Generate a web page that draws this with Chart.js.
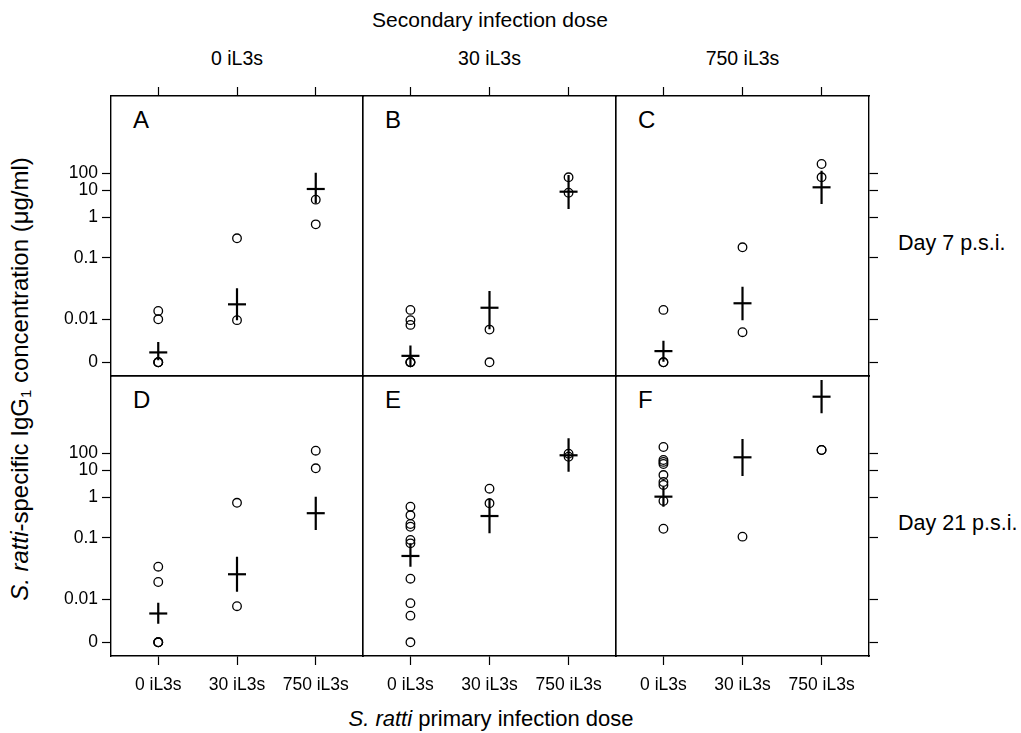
<!DOCTYPE html>
<html>
<head>
<meta charset="utf-8">
<script src="https://cdn.jsdelivr.net/npm/chart.js@4.4.0/dist/chart.umd.min.js"></script>
<style>
body { margin: 0; background: #fff; width: 1021px; height: 733px; position: relative; overflow: hidden;
       font-family: "Liberation Sans", Arial, sans-serif; color: #000; }
.lbl { position: absolute; white-space: nowrap; line-height: 1; }
.mid { transform: translate(-50%, -50%); }
canvas { position: absolute; }
</style>
</head>
<body>
<div class="lbl mid" style="left:490px; top:19px; font-size:21px;">Secondary infection dose</div>
<div id="labels"></div>
<div class="lbl" style="left:20px; top:379px; font-size:24px; transform: translate(-50%, -50%) rotate(-90deg);"><i>S. ratti</i>-specific IgG<sub style="font-size:15px; vertical-align:-3px;">1</sub> concentration (μg/ml)</div>
<div class="lbl mid" style="left:491px; top:719px; font-size:22px;"><i>S. ratti</i> primary infection dose</div>

<script>
var secondaryDoses = ['0 iL3s', '30 iL3s', '750 iL3s'];
var primaryDoses = ['0 iL3s', '30 iL3s', '750 iL3s'];
var dayLabels = ['Day 7 p.s.i.', 'Day 21 p.s.i.'];
var panelLetters = ['A', 'B', 'C', 'D', 'E', 'F'];
var yTickValues = [0, 0.01, 0.1, 1, 10, 100];
var yTickLabels = ['0', '0.01', '0.1', '1', '10', '100'];

// single mice (ug/ml), one list per primary dose
var obsA = [[0, 0, 0, 0.0100, 0.0137], [0.0098, 0.30], [0.66, 4.4]];
var obsB = [[0, 0, 0, 0.0087, 0.0098, 0.0142], [0, 0.0076], [7.9, 57.5]];
var obsC = [[0, 0, 0.0142], [0.0070, 0.18], [57.5, 360]];
var obsD = [[0, 0, 0, 0.0191, 0.0338], [0.0084, 0.72], [12.6, 143]];
var obsE = [[0, 0.0062, 0.0091, 0.0216, 0.081, 0.092, 0.186, 0.217, 0.355, 0.578], [0.70, 2.03], [62, 95]];
var obsF = [[0.166, 0.80, 2.78, 3.6, 6.5, 22.9, 30.5, 39.7, 238], [0.106], [158, 158]];

// group mean with lower / upper interval ends
var meanA = [0.0023, 0.0175, 11.5];
var lowA = [0.0005, 0.0098, 3.2];
var highA = [0.0047, 0.032, 109];
var meanB = [0.0015, 0.0154, 8.65];
var lowB = [-0.001, 0.0077, 1.98];
var highB = [0.0039, 0.0288, 79];
var meanC = [0.0026, 0.0182, 14.5];
var lowC = [0.0001, 0.0098, 3.0];
var highC = [0.005, 0.0338, 143];
var meanD = [0.0067, 0.0255, 0.40];
var lowD = [0.0043, 0.0133, 0.155];
var highD = [0.0092, 0.049, 1.03];
var meanE = [0.0505, 0.341, 76];
var lowE = [0.0338, 0.128, 8.65];
var highE = [0.081, 0.93, 790];
var meanF = [1.03, 57.5, 245000];
var lowF = [0.58, 6.0, 24800];
var highF = [2.4, 718, 2450000];

var obsAll = [obsA, obsB, obsC, obsD, obsE, obsF];
var meanAll = [meanA, meanB, meanC, meanD, meanE, meanF];
var lowAll = [lowA, lowB, lowC, lowD, lowE, lowF];
var highAll = [highA, highB, highC, highD, highE, highF];

// the y axis is a squeezed log scale: every decade gets its own height (axis units),
// 0..0.01 is linear
var bandEdge = [0, 43, 104.6, 145.3, 172.3, 189];
function toAxis(v) {
    if (v <= 0.01) return v / 0.01 * bandEdge[1];
    var lg = Math.log10(v) + 2;
    var i = Math.min(Math.floor(lg), 3);
    return bandEdge[i + 1] + (lg - i) * (bandEdge[i + 2] - bandEdge[i + 1]);
}

var panelLeft = [111, 363, 616];
var panelWidth = [252, 253, 253];
var panelTop = [96, 376];
var panelHeight = 280;
var M = 80;
var tickFont = { family: '"Liberation Sans", Arial, sans-serif', size: 17.5 };

// text around the panels
var labelsHtml = '';
secondaryDoses.forEach(function(s, c) {
    labelsHtml += '<div class="lbl mid" style="left:' + (panelLeft[c] + panelWidth[c] / 2) + 'px; top:59px; font-size:19.5px;">' + s + '</div>';
});
dayLabels.forEach(function(s, r) {
    labelsHtml += '<div class="lbl" style="left:898px; top:' + (panelTop[r] + 148 - 11) + 'px; font-size:21.5px;">' + s + '</div>';
});
panelLetters.forEach(function(s, p) {
    var r = Math.floor(p / 3), c = p % 3;
    labelsHtml += '<div class="lbl" style="left:' + (panelLeft[c] + 22) + 'px; top:' + (panelTop[r] + 12) + 'px; font-size:24px;">' + s + '</div>';
});
document.getElementById('labels').innerHTML = labelsHtml;

function setTicks(list) {
    return function(scale) { scale.ticks = list.map(function(v) { return { value: v }; }); };
}

function makeAxis(position, showTicks, showLabels, isX) {
    var axis = {
        type: 'linear',
        position: position,
        min: isX ? 0.4 : toAxis(0) - 13.7,
        max: isX ? 3.6 : toAxis(0) + 266.3,
        afterFit: function(scale) { if (isX) scale.height = M; else scale.width = M; },
        afterBuildTicks: setTicks(isX ? [1, 2, 3] : yTickValues.map(toAxis)),
        ticks: {
            display: showLabels,
            color: '#000',
            font: tickFont,
            padding: isX ? 10 : 4,
            maxRotation: 0,
            autoSkip: false,
            callback: function(value, index) { return isX ? primaryDoses[index] : yTickLabels[index]; }
        },
        grid: { display: true, drawOnChartArea: false, drawTicks: showTicks, tickLength: 9, tickColor: '#000', tickWidth: 1.2 },
        border: { display: true, color: '#000', width: 1.4 }
    };
    return axis;
}

for (var p = 0; p < 6; p++) {
    var r = Math.floor(p / 3), c = p % 3;
    var cv = document.createElement('canvas');
    var w = panelWidth[c] + 2 * M, h = panelHeight + 2 * M;
    cv.width = w; cv.height = h;
    cv.style.left = (panelLeft[c] - M) + 'px';
    cv.style.top = (panelTop[r] - M) + 'px';
    cv.style.width = w + 'px'; cv.style.height = h + 'px';
    document.body.appendChild(cv);

    var pts = [], bars = [], means = [];
    obsAll[p].forEach(function(list, i) {
        list.forEach(function(v) { pts.push({ x: i + 1, y: toAxis(v) }); });
    });
    meanAll[p].forEach(function(m, i) {
        means.push({ x: i + 1, y: toAxis(m) });
        bars.push({ x: i + 1, y: toAxis(lowAll[p][i]) });
        bars.push({ x: i + 1, y: toAxis(highAll[p][i]) });
        bars.push({ x: i + 1, y: null });
    });

    new Chart(cv.getContext('2d'), {
        type: 'scatter',
        data: {
            datasets: [
                { data: pts, pointStyle: 'circle', pointRadius: 4.3, borderWidth: 1.3, borderColor: '#000', backgroundColor: 'rgba(0,0,0,0)' },
                { data: bars, showLine: true, spanGaps: false, pointRadius: 0, borderWidth: 2.2, borderColor: '#000' },
                { data: means, pointStyle: 'line', pointRadius: 9, borderWidth: 2.2, borderColor: '#000' }
            ]
        },
        options: {
            responsive: false,
            animation: false,
            devicePixelRatio: 1,
            events: [],
            layout: { padding: 0 },
            plugins: { legend: { display: false }, tooltip: { enabled: false } },
            scales: {
                x: makeAxis('bottom', r === 1, r === 1, true),
                x2: makeAxis('top', r === 0, false, true),
                y: makeAxis('left', c === 0, c === 0, false),
                y2: makeAxis('right', c === 2, false, false)
            }
        }
    });
}
</script>
</body>
</html>
